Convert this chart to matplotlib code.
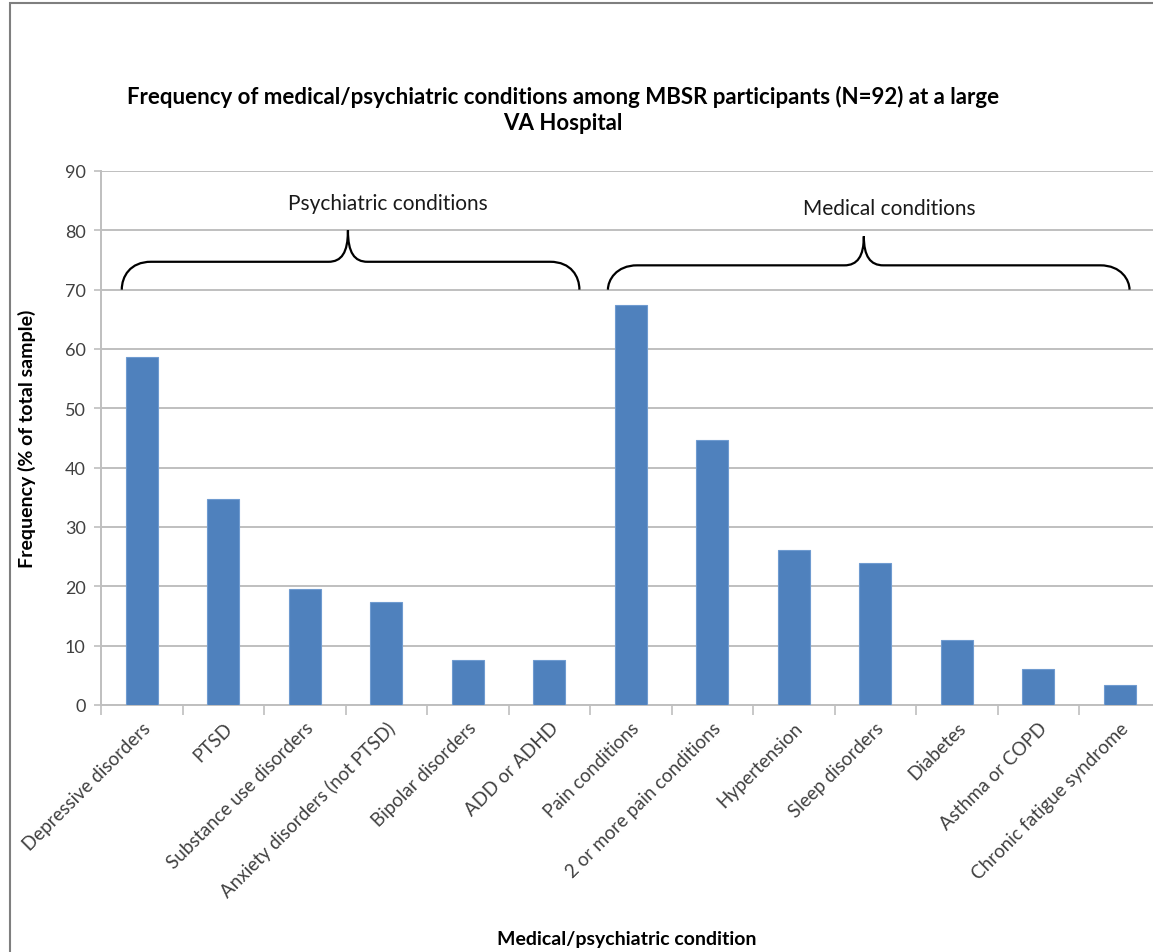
import numpy as np
import matplotlib.pyplot as plt
from matplotlib.path import Path
from matplotlib.patches import PathPatch, Rectangle

plt.rcParams['font.family'] = ['Lato', 'DejaVu Sans']

conditions = ['Depressive disorders', 'PTSD', 'Substance use disorders',
              'Anxiety disorders (not PTSD)', 'Bipolar disorders', 'ADD or ADHD',
              'Pain conditions', '2 or more pain conditions', 'Hypertension',
              'Sleep disorders', 'Diabetes', 'Asthma or COPD',
              'Chronic fatigue syndrome']
freq = [58.7, 34.8, 19.6, 17.4, 7.6, 7.6, 67.4, 44.6, 26.1, 23.9, 10.9, 6.0, 3.3]
yticks = [0, 10, 20, 30, 40, 50, 60, 70, 80, 90]

# group spans for the braces: (label, left, right, middle, text x, bar y, cusp y, text y)
groups = [('Psychiatric conditions', -0.245, 5.37, 2.53, 3.02, 74.7, 80.0, 84.6),
          ('Medical conditions', 5.72, 12.12, 8.86, 9.17, 74.1, 79.0, 83.8)]

fig = plt.figure(figsize=(11.53, 9.53), dpi=100)
ax = fig.add_axes([101/1153, 1-706/953, 1059.5/1153, 534/953])

# outer frame of the chart area
fig.patches.append(Rectangle((9.5/1153, -0.1), 1.2, 1-4/953+0.1, transform=fig.transFigure,
                             fill=False, edgecolor='#7f7f7f', linewidth=1.5))

x = np.arange(len(conditions))
ax.bar(x, freq, width=0.39, color='#4f81bd', edgecolor='#6f9bd0', linewidth=0.8, zorder=3)

ax.set_xlim(-0.5, len(conditions) - 0.5)
ax.set_ylim(0, 90)
ax.set_yticks(yticks)
ax.set_yticklabels([str(v) for v in yticks], fontsize=13, color='#404040')
ax.yaxis.grid(True, color='#bfbfbf', linewidth=1.4, zorder=0)
ax.tick_params(axis='y', length=5, width=1.2, color='#bfbfbf', pad=6)

ax.set_xticks(x)
ax.set_xticklabels(conditions, rotation=45, ha='right', rotation_mode='anchor',
                   fontsize=13.5, color='#404040')
ax.set_xticks(np.arange(-0.5, len(conditions)), minor=True)
ax.tick_params(axis='x', which='major', length=0, pad=10)
ax.tick_params(axis='x', which='minor', length=7, width=1.2, color='#bfbfbf')

for s in ['top', 'right']:
    ax.spines[s].set_visible(False)
for s in ['left', 'bottom']:
    ax.spines[s].set_color('#bfbfbf')
    ax.spines[s].set_linewidth(1.4)

# curly braces over each group
for label, x0, x1, xm, xt, yh, ycusp, yt in groups:
    r = 0.36
    rm = 0.24
    verts = [(x0, 70), (x0, yh - 2.5), (x0 + 0.1, yh), (x0 + r, yh),
             (xm - rm, yh),
             (xm - 0.08, yh), (xm, yh + 1.5), (xm, ycusp),
             (xm, yh + 1.5), (xm + 0.08, yh), (xm + rm, yh),
             (x1 - r, yh),
             (x1 - 0.1, yh), (x1, yh - 2.5), (x1, 70)]
    codes = [Path.MOVETO, Path.CURVE4, Path.CURVE4, Path.CURVE4,
             Path.LINETO,
             Path.CURVE4, Path.CURVE4, Path.CURVE4,
             Path.CURVE4, Path.CURVE4, Path.CURVE4,
             Path.LINETO,
             Path.CURVE4, Path.CURVE4, Path.CURVE4]
    ax.add_patch(PathPatch(Path(verts, codes), fill=False, edgecolor='black',
                           linewidth=1.6, zorder=4, clip_on=False))
    ax.text(xt, yt, label, ha='center', va='center', fontsize=15, color='#1a1a1a')

fig.text(563/1153, 1-110/953,
         'Frequency of medical/psychiatric conditions among MBSR participants (N=92) at a large\nVA Hospital',
         ha='center', va='center', fontsize=16, fontweight='bold', linespacing=1.25)
ax.set_ylabel('Frequency (% of total sample)', fontsize=14, fontweight='bold')
ax.yaxis.set_label_coords(-65/1059.5, 0.5)
fig.text(627/1153, 1-940/953, 'Medical/psychiatric condition', ha='center', va='center',
         fontsize=14, fontweight='bold')

fig.savefig('out.png', dpi=100)
